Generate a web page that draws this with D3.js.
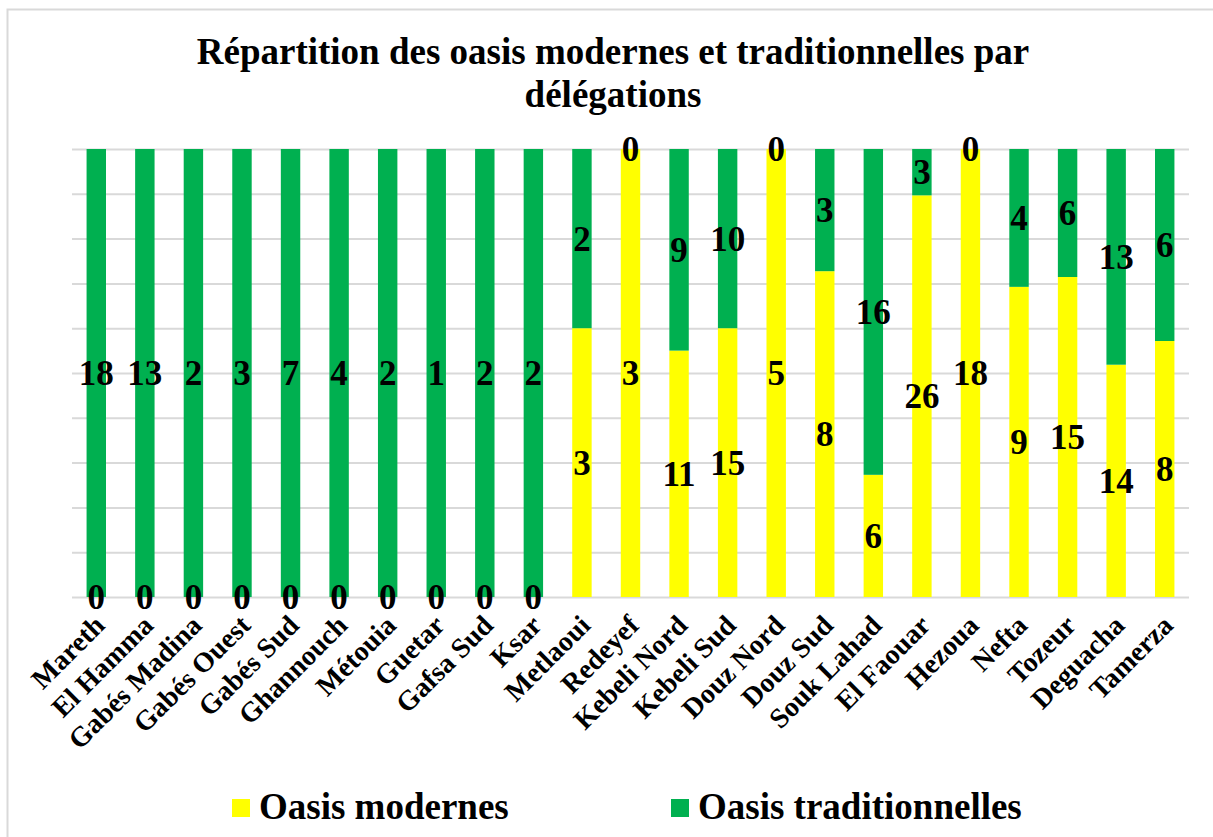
<!DOCTYPE html>
<html>
<head>
<meta charset="utf-8">
<script src="https://cdnjs.cloudflare.com/ajax/libs/d3/7.8.5/d3.min.js"></script>
<style>
    body { margin: 0; background: #fff; }
    text { font-family: "Liberation Serif", "Times New Roman", serif; font-weight: bold; fill: #000; }
</style>
</head>
<body>
<div id="chart"></div>
<script>
var categories = ["Mareth", "El Hamma", "Gabés Madina", "Gabés Ouest", "Gabés Sud", "Ghannouch", "Métouia",
    "Guetar", "Gafsa Sud", "Ksar", "Metlaoui", "Redeyef", "Kebeli Nord", "Kebeli Sud", "Douz Nord", "Douz Sud",
    "Souk Lahad", "El Faouar", "Hezoua", "Nefta", "Tozeur", "Deguacha", "Tamerza"];
var modernes = [0, 0, 0, 0, 0, 0, 0, 0, 0, 0, 3, 3, 11, 15, 5, 8, 6, 26, 18, 9, 15, 14, 8];
var traditionnelles = [18, 13, 2, 3, 7, 4, 2, 1, 2, 2, 2, 0, 9, 10, 0, 3, 16, 3, 0, 4, 6, 13, 6];
var seriesNames = ["Oasis modernes", "Oasis traditionnelles"];
var seriesColors = ["#FFFF00", "#00B050"];
var titleLines = ["Répartition des oasis modernes et traditionnelles par", "délégations"];
var gridTicks = [0, 0.1, 0.2, 0.3, 0.4, 0.5, 0.6, 0.7, 0.8, 0.9, 1];

var svgWidth = 1213;
var svgHeight = 837;

var margin = { top: 149, right: 24, bottom: 240, left: 72 };
var width = svgWidth - margin.left - margin.right;
var height = svgHeight - margin.top - margin.bottom;

var svg = d3.select("#chart")
    .append("svg")
    .attr("width", svgWidth)
    .attr("height", svgHeight);

// chart area border (only left and top edges are in view)
svg.append("rect")
    .attr("x", 7.5)
    .attr("y", 9.5)
    .attr("width", svgWidth)
    .attr("height", svgHeight)
    .attr("fill", "none")
    .attr("stroke", "#d9d9d9")
    .attr("stroke-width", 2);

// title
svg.append("g").selectAll("text")
    .data(titleLines)
    .enter()
    .append("text")
    .attr("x", 613)
    .attr("y", (d, i) => 64 + i * 43)
    .attr("text-anchor", "middle")
    .style("font-size", "37px")
    .text(d => d);

var chartGroup = svg.append("g")
    .attr("transform", `translate(${margin.left}, ${margin.top})`);

// build rows and stack them as 100%
var rows = categories.map(function (c, i) {
    return { cat: c, m: modernes[i], t: traditionnelles[i] };
});
var stack = d3.stack().keys(["m", "t"]).offset(d3.stackOffsetExpand);
var layers = stack(rows);

var xScale = d3.scaleBand()
    .domain(categories)
    .range([0, width])
    .paddingInner(0.6)
    .paddingOuter(0.3);

var yScale = d3.scaleLinear()
    .domain([0, 1])
    .range([height, 0]);

// gridlines
var grid = chartGroup.append("g")
    .call(d3.axisLeft(yScale).tickValues(gridTicks).tickSize(-width).tickFormat(""));
grid.select(".domain").remove();
grid.selectAll("line").attr("stroke", "#d9d9d9").attr("stroke-width", 2);

// bars
var layerGroups = chartGroup.selectAll(".layer")
    .data(layers)
    .enter()
    .append("g")
    .attr("fill", (d, i) => seriesColors[i]);

layerGroups.selectAll("rect")
    .data(d => d)
    .enter()
    .append("rect")
    .attr("x", d => xScale(d.data.cat))
    .attr("y", d => yScale(d[1]))
    .attr("width", xScale.bandwidth())
    .attr("height", d => yScale(d[0]) - yScale(d[1]));

// data labels at the middle of each segment
var keys = ["m", "t"];
layers.forEach(function (layer, li) {
    chartGroup.append("g").selectAll("text")
        .data(layer)
        .enter()
        .append("text")
        .attr("x", d => xScale(d.data.cat) + xScale.bandwidth() / 2)
        .attr("y", d => yScale((d[0] + d[1]) / 2))
        .attr("dy", "0.35em")
        .attr("text-anchor", "middle")
        .style("font-size", "35px")
        .text(d => d.data[keys[li]]);
});

// category labels
chartGroup.append("g").selectAll("text")
    .data(categories)
    .enter()
    .append("text")
    .attr("text-anchor", "end")
    .attr("transform", d => `translate(${xScale(d) + xScale.bandwidth() / 2 + 10}, ${height + 30}) rotate(-45)`)
    .style("font-size", "28px")
    .text(d => d);

// legend
var legendX = [232, 671];
var legend = svg.append("g").selectAll("g")
    .data(seriesNames)
    .enter()
    .append("g")
    .attr("transform", (d, i) => `translate(${legendX[i]}, 799)`);

legend.append("rect")
    .attr("width", 18)
    .attr("height", 18)
    .attr("fill", (d, i) => seriesColors[i]);

legend.append("text")
    .attr("x", 27)
    .attr("y", 20)
    .style("font-size", "37px")
    .text(d => d);
</script>
</body>
</html>
